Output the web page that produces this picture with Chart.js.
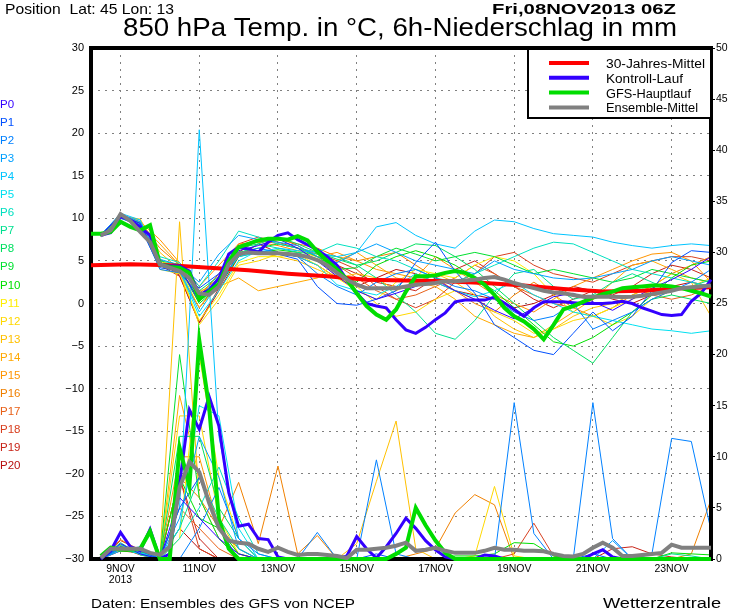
<!DOCTYPE html>
<html>
<head>
<meta charset="utf-8">
<script src="https://cdn.jsdelivr.net/npm/chart.js@4.4.1/dist/chart.umd.min.js"></script>
<style>
  html, body { margin: 0; padding: 0; background: #fff; }
  canvas { display: block; }
</style>
</head>
<body>
<canvas id="chart" width="730" height="609"></canvas>
<script>
// ---- data (hours after Fri 08NOV2013 06Z) ----
const dayHours = [18, 66, 114, 162, 210, 258, 306, 354];
const dayLabels = [['9NOV', '2013'], '11NOV', '13NOV', '15NOV', '17NOV', '19NOV', '21NOV', '23NOV'];

const hours6 = Array.from({ length: 64 }, (_, i) => i * 6);      // 0 .. 378
const precipHours6 = hours6.slice(1);                             // 6 .. 378
const hours12 = Array.from({ length: 32 }, (_, i) => 6 + i * 12); // 6 .. 378

const climHours = [0, 24, 48, 72, 96, 120, 144, 168, 192, 216, 240, 264, 288, 312, 336, 360, 378];
const climTemp = [4.5, 4.6, 4.5, 4.2, 3.9, 3.5, 3.2, 2.8, 2.7, 2.6, 2.4, 2.1, 1.7, 1.4, 1.5, 1.8, 1.9];

const gfsTemp = [8.2, 8.2, 8.4, 9.6, 9.0, 8.6, 9.2, 4.6, 4.3, 4.2, 3.6, 0.5, 1.4, 2.3, 5.0, 6.6,
  7.0, 7.4, 7.6, 7.6, 7.5, 7.9, 7.4, 6.1, 5.0, 4.0, 2.8, 1.2, -0.3, -1.3, -1.9, -0.7,
  1.4, 3.2, 3.2, 3.3, 3.6, 3.8, 3.6, 3.0, 2.2, 1.0, -0.5, -1.5, -2.1, -3.0, -4.2, -2.5,
  -0.7, -0.3, 0.2, 0.7, 1.1, 1.4, 1.8, 1.9, 2.0, 2.1, 2.1, 2.0, 1.8, 1.5, 1.2, 0.8];
const controlTemp = [null, 8.0, 8.3, 10.2, 9.8, 9.0, 8.0, 4.6, 4.4, 4.4, 3.8, 1.0, 1.6, 3.0, 5.8, 6.6,
  6.4, 6.0, 7.2, 8.0, 8.3, 7.5, 6.9, 6.3, 5.5, 4.5, 2.8, 1.2, 0.0, -0.3, -0.5, -1.9,
  -3.1, -3.5, -2.8, -1.9, -1.1, 0.2, 0.4, 0.4, 0.4, 0.75, 0.05, -0.7, -1.5, -0.5, 0.2, 0.2,
  0.2, 0.1, 0.0, 0.0, 0.0, 0.1, 0.25, 0.0, -0.5, -0.9, -1.3, -1.4, -1.3, 0.25, 1.2, 2.8];
const meanTemp = [null, 8.0, 8.6, 10.5, 9.7, 8.4, 7.2, 4.6, 4.2, 3.8, 3.0, 1.2, 1.0, 2.0, 4.6, 5.8,
  6.0, 5.9, 5.9, 5.9, 5.8, 5.7, 5.5, 5.1, 4.5, 3.6, 2.8, 2.2, 1.8, 1.8, 1.8, 1.8,
  2.0, 2.2, 2.3, 2.4, 2.6, 2.6, 2.7, 2.8, 3.0, 3.1, 2.8, 2.4, 2.1, 1.8, 1.5, 1.3,
  1.2, 1.0, 0.8, 0.8, 0.8, 0.8, 0.75, 0.8, 0.9, 1.1, 1.3, 1.5, 1.8, 1.9, 2.0, 2.1];

const gfsPrecip = [0.3, 1.1, 0.9, 0.9, 1.0, 2.7, 0, 0, 10.9, 7.1, 21.4, 14.9, 3.9, 1.0, 0, 0,
  0, 0, 0, 0, 0, 0, 0, 0, 0, 0, 0, 0, 0, 0, 0.5, 1.1,
  5.0, 3.3, 1.8, 0.6, 0, 0, 0, 0, 0, 0, 0, 0, 0, 0, 0, 0,
  0, 0, 0, 0, 0, 0, 0, 0, 0, 0, 0, 0, 0, 0, 0];
const controlPrecip = [0, 0.8, 2.6, 1.2, 0.8, 2.9, 0, 0.5, 7.4, 14.6, 12.7, 15.9, 13.0, 6.5, 3.2, 3.4,
  2.0, 1.9, 0.2, 0, 0, 0, 0, 0, 0, 0.3, 2.2, 1.0, 0.1, 1.2, 2.5, 4.0,
  3.0, 1.8, 0.9, 0.2, 0, 0, 0, 0.4, 0.3, 0, 0, 0, 0, 0, 0, 0,
  0, 0, 0.5, 0.9, 0.2, 0, 0, 0, 0, 0, 0, 0, 0, 0, 0];
const meanPrecip = [0.1, 1.0, 1.0, 1.0, 1.0, 0.6, 0.4, 1.2, 7.0, 9.5, 8.5, 5.5, 3.0, 1.8, 1.6, 1.5,
  1.0, 0.7, 1.1, 0.7, 0.4, 0.5, 0.5, 0.4, 0.3, 0.1, 0.9, 0.9, 1.0, 1.1, 1.3, 1.6,
  0.8, 0.9, 1.1, 0.8, 0.6, 0.6, 0.6, 0.8, 1.1, 0.9, 0.9, 0.8, 0.8, 0.75, 0.5, 0.3,
  0.25, 0.5, 1.1, 1.6, 1.1, 0.3, 0.3, 0.4, 0.5, 0.6, 1.4, 1.1, 1.1, 1.1, 1.1];

const memberNames = ['P0', 'P1', 'P2', 'P3', 'P4', 'P5', 'P6', 'P7', 'P8', 'P9', 'P10',
  'P11', 'P12', 'P13', 'P14', 'P15', 'P16', 'P17', 'P18', 'P19', 'P20'];
const memberColors = ['#3300ff', '#0050ff', '#0080ff', '#00a0ff', '#00c4ff', '#00e0f0', '#00e0c0',
  '#00e090', '#00e060', '#00e030', '#00e000', '#ffee00', '#ffd800', '#ffc000', '#ffa800',
  '#ff9400', '#f08000', '#e86018', '#d84020', '#c82418', '#b81010'];

// 12-hourly 850 hPa temperature per member (h = 6, 18, ... 378)
const memberTemp = [
  [8.0, 10.4, 9.4, 4.6, 4.3, 0.2, 2.8, 6.2, 6.8, 7.6, 6.5, 5.0, 3.2, 1.5, 0.5, 1.2, 2.0, 2.8, 1.5, 0.5, -0.8, -1.8, -0.5, 0.8, 1.2, 0.2, -0.8, 0.5, 1.8, 2.8, 4.0, 5.5],
  [8.1, 10.2, 9.0, 4.2, 3.8, 1.8, 3.5, 6.5, 6.2, 5.8, 5.2, 2.0, 0.0, -0.2, 0.5, 1.5, 4.8, 7.2, 3.8, 1.2, -2.5, -4.0, -5.5, -6.0, -3.5, -1.0, -3.2, -1.5, 1.5, 4.8, 6.2, 6.0],
  [7.9, 10.0, 9.2, 4.0, 3.6, 1.0, 2.0, 5.8, 6.5, 6.0, 5.5, 3.5, 2.0, 1.0, 2.5, 3.5, 4.0, 3.0, 2.0, 1.5, 0.5, -1.0, -2.0, -1.5, 0.0, -3.0, -2.0, -1.0, 0.5, 1.5, 2.5, 4.0],
  [8.0, 10.5, 9.6, 5.2, 4.5, 2.5, 5.8, 8.0, 7.5, 7.2, 6.8, 5.5, 4.8, 6.0, 7.0, 6.0, 5.0, 4.5, 4.0, 3.5, 5.0, 4.0, 3.5, 3.0, 2.8, 3.0, 3.5, 4.0, 5.0, 5.5, 5.0, 4.5],
  [8.0, 10.6, 9.8, 4.8, 4.0, -1.0, 2.5, 5.5, 6.0, 6.5, 6.2, 6.0, 5.5, 6.0, 9.0, 9.5, 8.0, 7.0, 6.5, 8.5, 9.8, 9.6, 8.8, 8.2, 8.0, 7.8, 7.2, 6.8, 6.5, 6.8, 7.0, 6.8],
  [8.1, 10.3, 9.3, 4.5, 3.9, -1.5, 1.5, 5.0, 6.2, 6.0, 5.5, 4.5, 2.2, 1.5, 1.0, 2.0, 3.5, 2.5, 1.5, 0.8, 1.5, 2.5, 1.0, 0.0, -1.0, -1.5, -2.0, -2.5, -3.0, -3.2, -3.5, -3.2],
  [8.0, 10.4, 9.5, 5.5, 4.8, 2.0, 5.0, 8.5, 7.8, 7.0, 6.5, 6.0, 7.0, 6.5, 5.5, 5.0, 4.0, 3.0, 2.5, 3.5, 4.5, 5.5, 6.5, 7.2, 7.0, 6.0, 5.0, 4.0, 3.5, 3.0, 2.5, 2.0],
  [7.9, 10.1, 9.1, 4.7, 4.5, 0.8, 3.0, 5.8, 7.0, 6.5, 6.0, 5.8, 5.5, 4.5, 3.0, 1.0, -1.0, -3.5, -4.2, -2.0, 1.0, 3.5, 4.0, 2.0, 0.5, 1.0, 2.5, 3.5, 2.5, 1.5, 2.0, 2.8],
  [8.0, 10.3, 9.4, 5.0, 4.6, 1.5, 3.2, 6.5, 7.0, 7.8, 7.0, 6.0, 5.2, 4.5, 5.0, 6.0, 7.0, 6.8, 5.5, 4.0, 2.0, 0.0, -2.0, -4.0, -5.5, -7.0, -4.0, -1.0, 0.5, 1.0, 0.5, 0.0],
  [8.1, 10.2, 9.2, 4.6, 4.0, 0.5, 2.8, 6.0, 6.5, 7.0, 6.5, 5.5, 4.0, 4.2, 5.5, 6.5, 5.8, 5.0, 5.5, 6.0, 5.5, 4.5, 3.5, 4.0, 3.5, 3.0, 2.5, 3.0, 4.0, 3.5, 3.0, 2.5],
  [8.0, 10.4, 9.3, 4.4, 4.2, 0.0, 2.0, 5.5, 6.0, 6.3, 6.0, 5.0, 3.5, 2.5, 4.5, 5.5, 6.2, 5.5, 4.5, 3.0, 1.5, -0.5, -2.5, -4.5, -5.0, -4.0, -2.5, -1.0, 1.0, 3.0, 4.5, 5.0],
  [7.9, 10.1, 9.6, 4.0, 3.5, -2.0, 1.0, 4.8, 5.5, 5.5, 5.8, 4.5, 3.0, 1.5, 0.5, 2.5, 4.0, 3.5, 3.0, 4.5, 5.5, 5.0, 3.5, 1.0, -1.0, -1.5, -0.5, 0.5, 1.5, 2.0, 1.5, 1.0],
  [8.0, 10.2, 9.8, 5.0, 4.2, -2.5, 0.5, 4.5, 5.0, 5.8, 6.2, 5.5, 3.0, 2.0, 0.0, -1.5, -1.0, 0.5, 1.5, 0.5, -1.0, -2.0, -3.5, -3.0, -2.0, -1.5, -2.5, -1.5, 0.5, 1.5, 2.0, 3.0],
  [8.1, 10.3, 9.9, 6.0, 4.0, -0.5, 2.2, 6.5, 6.0, 5.5, 5.0, 4.0, 3.0, 3.5, 3.0, 1.5, 2.5, 3.5, 2.5, 1.0, -1.5, -3.0, -4.0, -3.0, -1.5, -0.5, 0.0, 1.0, 2.0, 3.5, 2.5, -1.5],
  [8.0, 10.0, 9.4, 7.0, 4.5, 1.5, 2.0, 3.0, 1.5, 2.0, 2.5, 3.0, 5.0, 6.0, 4.5, 3.0, 2.5, 2.0, 0.5, -1.5, -2.5, -3.5, -4.0, -2.5, -1.0, 0.5, 2.5, 4.5, 5.0, 4.0, 3.0, 2.5],
  [7.9, 10.4, 9.6, 7.5, 4.8, 2.0, 4.5, 7.0, 7.2, 6.8, 6.2, 5.5, 6.0, 5.0, 4.0, 3.5, 3.0, 5.5, 4.0, 2.5, 1.0, 0.0, -1.0, 0.5, 2.0, 3.0, 4.0, 5.0, 5.8, 6.0, 5.0, 2.5],
  [8.0, 10.5, 9.5, 6.5, 4.5, 1.2, 3.0, 6.8, 7.2, 7.5, 7.0, 6.5, 5.5, 5.0, 5.5, 6.0, 4.5, 3.0, 1.5, 0.0, -1.0, 1.0, 2.5, 1.0, -0.5, -1.5, -0.5, 1.0, 2.0, 3.5, 4.5, 5.5],
  [8.0, 10.3, 9.3, 5.0, 4.0, 0.8, 3.5, 6.8, 7.5, 7.0, 6.5, 5.8, 4.5, 3.0, 1.5, 0.5, 1.0, 2.0, 3.0, 4.5, 3.5, 2.0, 1.0, 0.0, -0.5, 0.5, 1.5, 2.0, 1.0, 0.5, 1.0, 2.0],
  [7.9, 10.2, 9.2, 4.8, 3.5, -0.5, 2.5, 7.0, 7.8, 7.2, 6.5, 6.0, 5.0, 4.0, 2.0, 0.5, -0.5, 0.5, 2.5, 3.5, 5.5, 6.0, 4.5, 3.5, 3.0, 2.5, 3.5, 4.5, 5.0, 5.5, 5.5, 5.0],
  [8.0, 10.4, 9.5, 4.5, 3.2, -2.2, 1.8, 6.0, 7.5, 7.8, 6.8, 5.5, 4.5, 3.5, 2.5, 2.0, 1.5, 3.0, 4.0, 5.0, 3.5, 2.0, 0.5, -0.5, 0.5, 1.5, 1.0, 2.0, 3.5, 4.5, 4.0, 3.0],
  [8.1, 10.1, 9.0, 4.9, 3.3, -2.3, 1.5, 5.5, 7.0, 6.0, 5.5, 4.5, 3.0, 2.0, 3.0, 4.0, 3.5, 2.5, 1.5, 1.0, 0.5, -0.5, 0.0, 1.0, 2.0, 1.5, 0.5, 0.0, 1.0, 2.0, 2.5, 2.0]
];

// 12-hourly 6h precipitation per member (h = 6, 18, ... 378)
const memberPrecip = [
  [0, 1.5, 0.5, 0, 6, 4, 2, 0.5, 0, 0, 0, 0, 0, 0, 0, 0, 0, 0, 0, 0, 0, 0, 0, 0, 0, 0, 0, 0, 0, 0, 0, 0],
  [0, 1.2, 0.8, 0, 5, 8, 3, 0, 0, 0, 0, 0, 0, 0, 0.5, 0, 0, 0, 0, 0, 0, 0, 0, 0, 0, 0.5, 0, 0, 0, 0, 0, 0],
  [0, 1.0, 1.0, 0, 0, 3, 7, 2, 0.5, 0, 0, 2.6, 0, 0, 9.7, 0.5, 0, 0, 0, 0, 0, 15.3, 2.5, 0, 0, 15.3, 2.0, 0, 0.5, 11.8, 11.5, 2.8],
  [0, 0.8, 1.2, 0, 4, 12, 8, 1, 0, 0, 0, 0, 0, 0, 0, 0, 0, 0, 0, 0, 0, 0, 0, 0, 0, 0, 1.8, 0, 0, 0, 0, 0],
  [0, 1.0, 0.5, 0, 5, 42, 12, 2, 0, 0, 0, 0, 0, 0, 0, 0, 0, 0, 0, 0, 0, 0, 0, 0, 0, 0, 0, 0, 0, 0, 0, 0],
  [0, 1.4, 0.6, 0.2, 3, 15, 14, 3, 0, 0, 0, 0, 0, 0, 0, 0, 0, 0, 0, 0, 0, 0, 0, 0, 0, 0, 0, 0, 0, 0, 0, 0],
  [0, 1.0, 0.6, 0, 2, 5, 9, 4, 0.5, 0, 0, 0, 0, 0, 0, 0, 0, 0, 0, 0, 0, 0, 0, 0, 0, 0, 0, 0, 0, 0, 0, 0],
  [0, 1.6, 0.4, 0, 3, 8, 4, 1, 0, 0, 0, 0, 0, 0, 0, 0, 0, 0, 0, 0, 0, 0, 0, 0, 0, 0, 0, 0, 0, 0.5, 0.3, 0],
  [0, 1.2, 0.8, 0, 12, 12, 5, 2, 0, 0, 0, 0, 0, 0, 0, 0, 0, 0, 0, 0, 0, 0, 0, 0, 0, 0, 0, 0, 0, 0, 0, 0],
  [0, 1.4, 0.7, 0, 20, 6, 2, 0, 0, 0, 0, 0, 0, 0, 0, 0, 0, 0, 0, 0, 0, 0, 0, 0, 0, 0, 0, 0, 0, 0, 0, 0],
  [0, 1.0, 0.5, 0, 8, 4, 3, 0.5, 0, 0, 0, 0, 0, 0, 0, 0, 0, 0, 0.3, 0.3, 0.5, 1.6, 1.5, 0.3, 0, 0, 0, 0, 0, 0.6, 0.5, 0.4],
  [0, 1.1, 0.9, 0, 2, 20, 8, 2, 0, 0, 0, 0, 0, 0, 0, 0, 0, 0, 0, 0, 0, 0, 0, 0, 0, 0, 0, 0, 0, 0, 0, 0],
  [0, 0.9, 0.7, 0, 14, 14, 4, 0.5, 0, 0, 0, 0, 0, 0, 0, 0, 0, 0, 0, 0.3, 7.1, 0.3, 0, 0, 0, 0, 0, 0, 0, 0, 0, 0],
  [0, 1.3, 0.8, 0, 33, 6, 2, 0, 0, 0, 0, 0, 0, 1.5, 7.6, 13.5, 1.0, 0, 0, 0, 0, 0, 0, 0, 0, 0, 0, 0, 0, 0, 0, 0],
  [0, 1.0, 0.5, 0, 16, 8, 3, 0.5, 0, 0, 0, 0, 0, 0, 0, 0, 0, 0, 0, 0, 0, 0, 0, 0, 0, 0, 0, 0, 0, 0, 0, 0],
  [0, 1.2, 0.6, 0, 10, 10, 3, 1, 0, 0, 0, 0, 0, 0, 0, 0, 0, 0, 0, 0, 0, 0, 0, 0, 0, 0, 0, 0, 0, 0, 0, 0],
  [0, 1.9, 0.8, 0, 8, 6, 3, 7.5, 1.5, 9.1, 0.5, 2.3, 0, 0, 0, 0, 0.5, 1.0, 4.5, 6.3, 5.3, 0, 0, 0, 0, 0, 0, 0, 0, 0, 0.5, 5.8],
  [0, 1.3, 0.5, 0, 5, 3, 1, 0, 0, 0, 0, 0, 0, 0, 0, 0, 0, 0, 0, 0, 0, 0, 0, 0, 0, 0, 0, 0, 0, 0, 0, 0],
  [0, 1.8, 0.9, 0, 8, 1, 0, 0, 0, 0, 0, 0, 0, 0, 0, 0, 0, 0, 0, 0, 0, 0.5, 3.5, 0.3, 0, 0, 0, 0, 0, 0, 0, 0],
  [0, 1.1, 0.4, 0, 8, 2, 0, 0, 0, 0, 0, 0, 0, 0, 0, 0, 0, 0, 0, 0, 0, 0, 0, 0, 0, 0, 1.0, 1.2, 0.5, 0.2, 0, 0],
  [0, 0.8, 0.6, 0, 3, 1, 0, 0, 0, 0, 0, 0, 0, 0, 0, 0, 0, 0, 0, 0, 0, 0, 0, 0, 0, 0, 0, 0, 0, 0, 0, 0]
];

const legendItems = [
  { label: '30-Jahres-Mittel', color: '#ff0000', width: 99 },
  { label: 'Kontroll-Lauf', color: '#3300ff', width: 77 },
  { label: 'GFS-Hauptlauf', color: '#00dd00', width: 85 },
  { label: 'Ensemble-Mittel', color: '#808080', width: 92 }
];

// ---- helpers ----
const FONT = '"Liberation Sans", Arial, sans-serif';

const series = (hours, vals, color, width, axis) => ({
  data: vals.map((v, i) => ({ x: hours[i], y: v })),
  borderColor: color,
  borderWidth: width,
  pointRadius: 0,
  fill: false,
  tension: 0,
  clip: false,
  yAxisID: axis
});

const fitText = (ctx, text, x, baseline, size, width, weight, color) => {
  ctx.save();
  ctx.font = (weight || '') + ' ' + size + 'px ' + FONT;
  ctx.fillStyle = color || '#000';
  ctx.textBaseline = 'alphabetic';
  ctx.textAlign = 'left';
  const w = ctx.measureText(text).width;
  ctx.translate(x, baseline);
  if (width) ctx.scale(width / w, 1);
  ctx.fillText(text, 0, 0);
  ctx.restore();
};

// thick lines first (drawn on top), members after
const thickSets = [
  series(hours6, meanTemp, '#808080', 4, 'y'),
  series(precipHours6, meanPrecip, '#808080', 4, 'y2'),
  series(hours6, gfsTemp, '#00dd00', 4, 'y'),
  series(precipHours6, gfsPrecip, '#00dd00', 4, 'y2'),
  series(hours6, controlTemp, '#3300ff', 3, 'y'),
  series(precipHours6, controlPrecip, '#3300ff', 3, 'y2'),
  series(climHours, climTemp, '#ff0000', 4, 'y')
];
const memberSets = [];
memberNames.forEach((name, i) => {
  memberSets.push(series(hours12, memberTemp[i], memberColors[i], 1, 'y'));
  memberSets.push(series(hours12, memberPrecip[i], memberColors[i], 1, 'y2'));
});

const decor = {
  id: 'decor',
  afterDatasetDraw(chart, args) {
    // frame goes over the thin member lines but under the thick ones
    if (args.index !== thickSets.length) return;
    const { ctx, chartArea: a } = chart;
    ctx.save();
    ctx.strokeStyle = '#000';
    ctx.lineWidth = 4;
    ctx.strokeRect(a.left, a.top, a.right - a.left, a.bottom - a.top);
    ctx.restore();
  },
  afterDatasetsDraw(chart) {
    const { ctx, chartArea: a } = chart;
    ctx.save();
    const bx = 528, by = a.top, bw = a.right - bx, bh = 118 - a.top;
    ctx.fillStyle = '#fff';
    ctx.fillRect(bx, by, bw, bh);
    ctx.strokeStyle = '#000';
    ctx.lineWidth = 2;
    ctx.strokeRect(bx, by, bw, bh);
    ctx.lineWidth = 4;
    ctx.strokeRect(a.left, a.top, a.right - a.left, 0);
    legendItems.forEach((it, i) => {
      const y = 63 + i * 14.8;
      ctx.strokeStyle = it.color;
      ctx.lineWidth = 4;
      ctx.beginPath();
      ctx.moveTo(549, y);
      ctx.lineTo(589, y);
      ctx.stroke();
      fitText(ctx, it.label, 606, y + 5, 12.5, it.width);
    });
    ctx.restore();
  },
  afterDraw(chart) {
    const ctx = chart.ctx;
    fitText(ctx, 'Position  Lat: 45 Lon: 13', 5, 14, 15, 169);
    fitText(ctx, 'Fri,08NOV2013 06Z', 492, 14, 15, 184, 'bold');
    fitText(ctx, '850 hPa Temp. in °C, 6h-Niederschlag in mm', 123, 36, 25, 554);
    fitText(ctx, 'Daten: Ensembles des GFS von NCEP', 91, 608, 13, 264);
    fitText(ctx, 'Wetterzentrale', 603, 608, 14, 118);
    memberNames.forEach((name, i) => {
      fitText(ctx, name, 0, 108 + i * 18.05, 11.5, null, '', memberColors[i]);
    });
  }
};

const minus = v => String(v).replace('-', '\u2212');

new Chart(document.getElementById('chart'), {
  type: 'line',
  data: { datasets: thickSets.concat(memberSets) },
  plugins: [decor],
  options: {
    responsive: false,
    animation: false,
    events: [],
    layout: { padding: { top: 48, left: 0, right: 0, bottom: 0 } },
    plugins: { legend: { display: false }, tooltip: { enabled: false } },
    scales: {
      x: {
        type: 'linear',
        min: 0,
        max: 378,
        afterBuildTicks: s => { s.ticks = dayHours.map(v => ({ value: v })); },
        afterFit: s => { s.height = 50; },
        ticks: {
          autoSkip: false,
          maxRotation: 0,
          padding: 5,
          color: '#000',
          font: { family: FONT, size: 10.5, lineHeight: 1.05 },
          callback: v => { const i = dayHours.indexOf(v); return i >= 0 ? dayLabels[i] : ''; }
        },
        grid: { color: '#808080', lineWidth: 1, drawTicks: false },
        border: { display: false, dash: [2, 5] }
      },
      y: {
        position: 'left',
        min: -30,
        max: 30,
        afterFit: s => { s.width = 91; },
        ticks: {
          stepSize: 5,
          padding: 7,
          color: '#000',
          font: { family: FONT, size: 11 },
          callback: v => minus(v)
        },
        grid: { color: '#808080', lineWidth: 1, drawTicks: false },
        border: { display: false, dash: [2, 5] }
      },
      y2: {
        position: 'right',
        min: 0,
        max: 50,
        afterFit: s => { s.width = 19; },
        ticks: {
          stepSize: 5,
          padding: 1,
          color: '#000',
          font: { family: FONT, size: 10.5 }
        },
        grid: { drawOnChartArea: false, drawTicks: true, tickLength: 4, tickColor: '#000', tickWidth: 1 },
        border: { display: false }
      }
    }
  }
});
</script>
</body>
</html>
